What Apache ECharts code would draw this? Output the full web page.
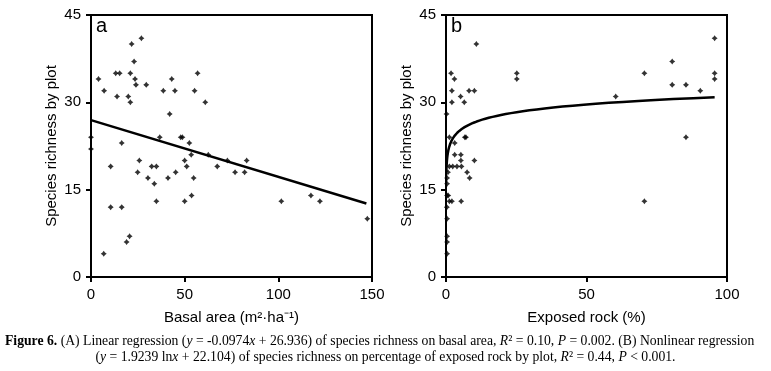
<!DOCTYPE html>
<html>
<head>
<meta charset="utf-8">
<script src="https://cdn.jsdelivr.net/npm/echarts@6/dist/echarts.min.js"></script>
<style>
  html, body { margin: 0; padding: 0; background: #fff; }
  #chart { width: 771px; height: 371px; }
</style>
</head>
<body>
<div id="chart"></div>
<script>
// panel a: basal area vs species richness
const basalArea = [0, 0, 4, 7, 10.5, 10.5, 6.8, 13.2, 15.3, 13.9, 16.4, 16.4, 19, 20.6, 19.9, 21, 21, 21.7, 23, 23.5,
  24, 26.9, 29.5, 24.9, 25.8, 30.4, 32.4, 34.9, 33.8, 34.9, 36.7, 38.6, 42, 43.1, 44.8, 41.1, 45.2, 47.9, 48.8, 50,
  51.1, 52.5, 53.5, 50, 53.7, 54.8, 55.3, 56.9, 61, 62.6, 67.4, 72.8, 76.9, 82, 83.1, 101.6, 117.4, 122.2, 147.5]
const richnessA = [24, 22, 34, 32, 19, 12, 4, 35, 35, 31, 23, 12, 6, 7, 31, 30, 35, 40, 37, 34,
  33, 41, 33, 18, 20, 17, 19, 19, 16, 13, 24, 32, 28, 34, 32, 17, 18, 24, 24, 20,
  19, 23, 21, 13, 14, 17, 32, 35, 30, 21, 19, 20, 18, 18, 20, 13, 14, 13, 10]

// panel b: exposed rock vs species richness
const exposedRock = [1.8, 3, 2.1, 2.1, 5.2, 6.5, 8.2, 10.1, 10.8, 25.2, 25.2, 60.4, 70.6, 70.6, 80.5, 80.5, 85.4, 85.4, 90.5, 95.6,
  95.6, 95.6, 0.2, 1.2, 3.1, 6.7, 7.1, 3.1, 5.3, 5.3, 10.1, 1.2, 2.4, 3.9, 5.5, 0.7, 7.5, 8.4, 0.4, 0.4,
  0.4, 0.8, 1.2, 2.1, 5.4, 0.3, 0.4, 0.4, 0.4, 0.4]
const richnessB = [35, 34, 32, 30, 31, 30, 32, 32, 40, 35, 34, 31, 35, 13, 37, 33, 33, 24, 32, 41,
  35, 34, 28, 24, 23, 24, 24, 21, 21, 20, 20, 19, 19, 19, 19, 18, 18, 17, 17, 16,
  14, 14, 13, 13, 13, 12, 10, 7, 6, 4]

// regression coefficients from the caption
const linA = { slope: -0.0974, intercept: 26.936, xFrom: 0, xTo: 147 }
const logB = { k: 1.9239, c: 22.104, xFrom: 0.12, xTo: 95.6 }

const yTicks = { min: 0, max: 45, interval: 15 }

const FONT = 'Liberation Sans, Arial, sans-serif'
const SERIF = 'Liberation Serif, Times New Roman, serif'
const STAR = 'path://M0,-1 L0.42,-0.42 L1,0 L0.42,0.42 L0,1 L-0.42,0.42 L-1,0 L-0.42,-0.42 Z'
const CAP = 13.7

function pairs(xs, ys) {
  return xs.map((x, i) => [x, ys[i]])
}

// fitted curve, sampled along log-spaced x
function logCurve() {
  let pts = []
  let n = 80
  let a = Math.log(logB.xFrom), b = Math.log(logB.xTo)
  for (let i = 0; i <= n; i++) {
    let x = Math.exp(a + (b - a) * i / n)
    pts.push([x, logB.k * Math.log(x) + logB.c])
  }
  return pts
}

function xAxisCfg(idx, max, name) {
  return {
    gridIndex: idx, type: 'value', min: 0, max: max, interval: 50,
    name: name, nameLocation: 'middle', nameGap: 33,
    nameTextStyle: { fontSize: 15, color: '#000', fontFamily: FONT },
    axisLine: { lineStyle: { color: '#000', width: 2 } },
    axisTick: { length: 5, lineStyle: { color: '#000', width: 2 } },
    axisLabel: { fontSize: 15, color: '#000', margin: 10, fontFamily: FONT },
    splitLine: { show: false }
  }
}

function yAxisCfg(idx) {
  return {
    gridIndex: idx, type: 'value', min: yTicks.min, max: yTicks.max, interval: yTicks.interval,
    name: 'Species richness by plot', nameLocation: 'middle', nameGap: 32,
    nameTextStyle: { fontSize: 15, color: '#000', fontFamily: FONT },
    axisLine: { lineStyle: { color: '#000', width: 2 } },
    axisTick: { length: 5, lineStyle: { color: '#000', width: 2 } },
    axisLabel: { fontSize: 15, color: '#000', margin: 10, fontFamily: FONT },
    splitLine: { show: false }
  }
}

const chart = echarts.init(document.getElementById('chart'))
chart.setOption({
  animation: false,
  backgroundColor: '#fff',
  grid: [
    { left: 91, top: 15, width: 281, height: 262, show: true, borderColor: '#000', borderWidth: 2 },
    { left: 446, top: 15, width: 281, height: 262, show: true, borderColor: '#000', borderWidth: 2 }
  ],
  xAxis: [
    xAxisCfg(0, 150, 'Basal area (m²·ha⁻¹)'),
    xAxisCfg(1, 100, 'Exposed rock (%)')
  ],
  yAxis: [yAxisCfg(0), yAxisCfg(1)],
  series: [
    {
      type: 'scatter', xAxisIndex: 0, yAxisIndex: 0,
      data: pairs(basalArea, richnessA),
      symbol: STAR, symbolSize: 6, itemStyle: { color: '#000' }
    },
    {
      type: 'line', xAxisIndex: 0, yAxisIndex: 0, showSymbol: false,
      data: [linA.xFrom, linA.xTo].map(x => [x, linA.slope * x + linA.intercept]),
      lineStyle: { color: '#000', width: 2.5 }
    },
    {
      type: 'scatter', xAxisIndex: 1, yAxisIndex: 1,
      data: pairs(exposedRock, richnessB),
      symbol: STAR, symbolSize: 6, itemStyle: { color: '#000' }
    },
    {
      type: 'line', xAxisIndex: 1, yAxisIndex: 1, showSymbol: false, smooth: false,
      data: logCurve(),
      lineStyle: { color: '#000', width: 2.5 }
    }
  ],
  graphic: [
    { type: 'text', left: 96, top: 16, style: { text: 'a', fontSize: 20, fill: '#000', fontFamily: FONT } },
    { type: 'text', left: 451, top: 16, style: { text: 'b', fontSize: 20, fill: '#000', fontFamily: FONT } },
    {
      type: 'text', left: 5, top: 334,
      style: {
        text: '{b|Figure 6.} (A) Linear regression ({i|y} = -0.0974{i|x} + 26.936) of species richness on basal area, {i|R}² = 0.10, {i|P} = 0.002. (B) Nonlinear regression',
        fontSize: CAP, fontFamily: SERIF, fill: '#000',
        rich: {
          b: { fontWeight: 'bold', fontSize: CAP, fontFamily: SERIF },
          i: { fontStyle: 'italic', fontSize: CAP, fontFamily: SERIF }
        }
      }
    },
    {
      type: 'text', left: 'center', top: 350,
      style: {
        text: '({i|y} = 1.9239 ln{i|x} + 22.104) of species richness on percentage of exposed rock by plot, {i|R}² = 0.44, {i|P} < 0.001.',
        fontSize: CAP, fontFamily: SERIF, fill: '#000',
        rich: {
          i: { fontStyle: 'italic', fontSize: CAP, fontFamily: SERIF }
        }
      }
    }
  ]
})
</script>
</body>
</html>
